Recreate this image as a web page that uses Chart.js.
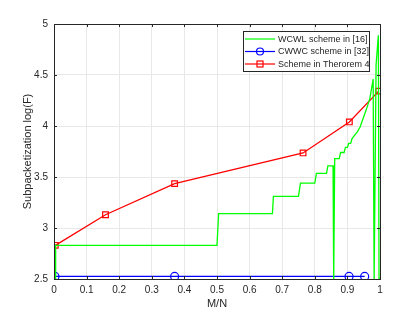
<!DOCTYPE html>
<html>
<head>
<meta charset="utf-8">
<script src="https://cdn.jsdelivr.net/npm/chart.js@4.4.1/dist/chart.umd.min.js"></script>
<style>
  html, body { margin: 0; padding: 0; background: #fff; }
  #wrap { width: 420px; height: 315px; }
</style>
</head>
<body>
<div id="wrap"><canvas id="c" width="420" height="315"></canvas></div>
<script>
// series (x = M/N, y = log10 F)
const seriesLabels = ['WCWL scheme in [16]', 'CWWC scheme in [32]', 'Scheme in Therorem 4'];

const greenX = [0.005, 0.005, 0.5, 0.505, 0.67, 0.673, 0.75, 0.756, 0.8, 0.805, 0.836, 0.84, 0.856, 0.858,
  0.861, 0.875, 0.879, 0.89, 0.894, 0.9, 0.904, 0.91, 0.914, 0.92, 0.93, 0.939, 0.95, 0.96, 0.969, 0.979,
  0.982, 0.984, 0.988, 0.995, 0.997, 1.0];
const greenY = [2.5, 2.83, 2.83, 3.14, 3.14, 3.31, 3.31, 3.44, 3.44, 3.535, 3.535, 3.61, 3.61, 2.5,
  3.68, 3.68, 3.74, 3.74, 3.79, 3.79, 3.83, 3.83, 3.875, 3.9, 3.94, 3.99, 4.09, 4.18, 4.27, 4.46,
  2.5, 2.5, 4.6, 4.89, 2.5, 2.5];

const blueX = [0.003, 0.37, 0.905, 0.953];
const blueY = [2.525, 2.525, 2.525, 2.525];

const redX = [0.004, 0.158, 0.37, 0.764, 0.906, 0.996];
const redY = [2.83, 3.13, 3.435, 3.736, 4.04, 4.342];

const xTicks = [0, 0.1, 0.2, 0.3, 0.4, 0.5, 0.6, 0.7, 0.8, 0.9, 1];
const yTicks = [2.5, 3, 3.5, 4, 4.5, 5];

const FONT = 'Liberation Sans, Arial, Helvetica, sans-serif';
const INK = '#262626';

function pts(xs, ys) { return xs.map((x, i) => ({ x: x, y: ys[i] })); }
function fmt(v) { return String(Math.round(v * 10) / 10); }

// box, inner tick marks and the legend, MATLAB style
const matlabBox = {
  id: 'matlabBox',
  afterDraw(chart) {
    const { ctx, chartArea: a, scales } = chart;
    ctx.save();
    ctx.strokeStyle = INK;
    ctx.lineWidth = 1;
    ctx.strokeRect(Math.round(a.left) + 0.5, Math.round(a.top) + 0.5,
      Math.round(a.right - a.left), Math.round(a.bottom - a.top));
    ctx.beginPath();
    xTicks.forEach(t => {
      const x = Math.round(scales.x.getPixelForValue(t)) + 0.5;
      ctx.moveTo(x, a.bottom); ctx.lineTo(x, a.bottom - 3);
      ctx.moveTo(x, a.top); ctx.lineTo(x, a.top + 3);
    });
    yTicks.forEach(t => {
      const y = Math.round(scales.y.getPixelForValue(t)) + 0.5;
      ctx.moveTo(a.left, y); ctx.lineTo(a.left + 3, y);
      ctx.moveTo(a.right, y); ctx.lineTo(a.right - 3, y);
    });
    ctx.stroke();

    // legend
    const bx = 243, by = 31, bw = 126, bh = 40, row = 12.5;
    ctx.fillStyle = '#fff';
    ctx.fillRect(bx, by, bw, bh);
    ctx.strokeStyle = INK;
    ctx.strokeRect(bx + 0.5, by + 0.5, bw, bh);
    ctx.font = '9px ' + FONT;
    ctx.textBaseline = 'middle';
    chart.data.datasets.forEach((ds, i) => {
      const y = by + 8 + i * row;
      ctx.strokeStyle = ds.borderColor;
      ctx.lineWidth = 1.2;
      ctx.beginPath(); ctx.moveTo(bx + 2, y); ctx.lineTo(bx + 32, y); ctx.stroke();
      if (ds.pointStyle === 'circle') {
        ctx.beginPath(); ctx.arc(bx + 17, y, 3.5, 0, Math.PI * 2); ctx.stroke();
      } else if (ds.pointStyle === 'rect') {
        ctx.strokeRect(bx + 14, y - 3, 6, 6);
      }
      ctx.fillStyle = INK;
      ctx.fillText(ds.label, bx + 35, y + 0.5);
    });
    ctx.restore();
  }
};

new Chart(document.getElementById('c'), {
  type: 'line',
  data: {
    datasets: [
      { label: seriesLabels[0], data: pts(greenX, greenY), borderColor: '#00ff00', borderWidth: 1.3,
        pointRadius: 0, tension: 0, pointStyle: false },
      { label: seriesLabels[1], data: pts(blueX, blueY), borderColor: '#0000ff', borderWidth: 1.3,
        pointStyle: 'circle', pointRadius: 4, pointBorderWidth: 1.2, pointBackgroundColor: 'rgba(0,0,0,0)', tension: 0 },
      { label: seriesLabels[2], data: pts(redX, redY), borderColor: '#ff0000', borderWidth: 1.3,
        pointStyle: 'rect', pointRadius: 4, pointBorderWidth: 1.2, pointBackgroundColor: 'rgba(0,0,0,0)', tension: 0 }
    ]
  },
  options: {
    responsive: false,
    animation: false,
    layout: { padding: { left: 21, top: 24, right: 40, bottom: 0 } },
    plugins: { legend: { display: false }, tooltip: { enabled: false } },
    scales: {
      x: {
        type: 'linear', min: 0, max: 1,
        afterBuildTicks: s => { s.ticks = xTicks.map(v => ({ value: v })); },
        afterFit: s => { s.height = 36; },
        grid: { color: '#e8e8e8', drawTicks: false },
        border: { color: INK },
        ticks: { color: INK, font: { family: FONT, size: 10 }, padding: 5, maxRotation: 0, callback: v => fmt(v) },
        title: { display: true, text: 'M/N', color: INK, font: { family: FONT, size: 11 }, padding: { top: 2, bottom: 4 } }
      },
      y: {
        type: 'linear', min: 2.5, max: 5,
        afterBuildTicks: s => { s.ticks = yTicks.map(v => ({ value: v })); },
        afterFit: s => { s.width = 33; },
        grid: { color: '#e8e8e8', drawTicks: false },
        border: { color: INK },
        ticks: { color: INK, font: { family: FONT, size: 10 }, padding: 6, callback: v => fmt(v) },
        title: { display: true, text: 'Subpacketization log(F)', color: INK, font: { family: FONT, size: 11 }, padding: { top: 0, bottom: 2 } }
      }
    }
  },
  plugins: [matlabBox]
});
</script>
</body>
</html>
